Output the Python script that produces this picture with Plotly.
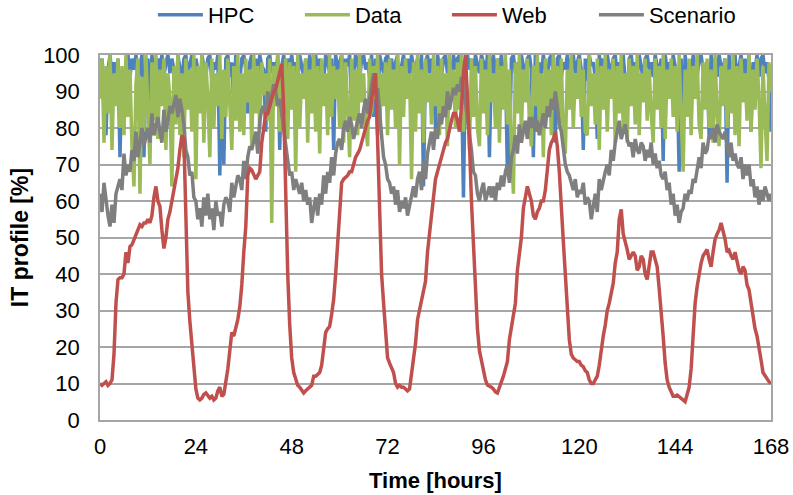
import numpy as np
import plotly.graph_objects as go

# Half-hourly IT utilisation profiles over one week (168 h), values in %.
# Each line of values covers six hours (12 samples).
hpc = [
    97, 99, 92, 78, 96, 100, 94, 98, 93, 99, 72, 95,
    80, 98, 100, 94, 99, 96, 100, 93, 97, 100, 72, 96,
    99, 85, 100, 95, 88, 99, 96, 100, 94, 98, 100, 95,
    99, 96, 84, 100, 97, 93, 99, 100, 95, 98, 100, 94,
    99, 96, 85, 100, 97, 94, 99, 100, 93, 98, 96, 100,
    67, 95, 70, 99, 100, 94, 98, 86, 100, 97, 93, 99,
    100, 96, 84, 98, 100, 95, 99, 93, 100, 97, 96, 79,
    99, 100, 95, 98, 93, 100, 74, 97, 100, 94, 99, 96,
    100, 95, 98, 93, 100, 97, 94, 99, 88, 100, 96, 98,
    100, 94, 99, 97, 93, 100, 98, 95, 99, 74, 100, 96,
    98, 100, 94, 99, 97, 100, 86, 95, 100, 98, 93, 99,
    100, 96, 98, 94, 100, 83, 99, 78, 100, 97, 95, 99,
    100, 96, 99, 93, 98, 100, 82, 97, 100, 95, 99, 94,
    100, 97, 96, 99, 93, 100, 64, 98, 100, 95, 99, 96,
    80, 100, 97, 94, 99, 100, 95, 98, 93, 100, 96, 99,
    100, 94, 61, 98, 100, 96, 99, 93, 100, 97, 95, 100,
    98, 94, 100, 72, 97, 100, 93, 99, 96, 100, 94, 98,
    68, 70, 99, 100, 95, 98, 93, 100, 97, 94, 99, 100,
    96, 72, 100, 80, 98, 94, 100, 97, 93, 99, 100, 95,
    76, 99, 100, 94, 98, 96, 100, 93, 99, 100, 95, 98,
    100, 96, 74, 99, 93, 100, 97, 98, 94, 77, 100, 96,
    99, 93, 100, 97, 95, 99, 100, 94, 98, 96, 100, 93,
    86, 99, 100, 95, 98, 94, 100, 97, 93, 99, 100, 96,
    98, 94, 100, 97, 95, 99, 71, 100, 96, 98, 93, 100,
    97, 94, 68, 99, 78, 100, 95, 98, 93, 100, 97, 94,
    99, 100, 96, 93, 98, 78, 100, 95, 99, 94, 100, 97,
    96, 99, 65, 100, 94, 98, 100, 93, 97, 100, 95, 99,
    93, 100, 79, 98, 96, 100, 94, 99, 100, 95, 98, 93,
    79,
]

data = [
    88, 99, 76, 97, 84, 100, 74, 95, 86, 99, 80, 97,
    78, 100, 83, 96, 75, 64, 92, 99, 62, 94, 79, 100,
    85, 70, 98, 82, 100, 77, 96, 86, 99, 74, 95, 88,
    64, 97, 81, 100, 78, 95, 72, 99, 85, 96, 79, 100,
    66, 97, 84, 100, 76, 98, 88, 72, 99, 80, 95, 86,
    100, 77, 96, 83, 99, 88, 74, 97, 82, 100, 79, 95,
    78, 99, 87, 96, 75, 100, 84, 97, 80, 98, 89, 95,
    82, 99, 54, 97, 86, 100, 79, 96, 84, 99, 77, 98,
    85, 97, 68, 100, 80, 95, 88, 99, 76, 96, 84, 100,
    79, 97, 73, 99, 86, 95, 78, 100, 83, 97, 88, 96,
    80, 100, 76, 98, 85, 72, 99, 82, 96, 78, 100, 87,
    95, 81, 75, 99, 84, 97, 88, 100, 79, 95, 86, 98,
    78, 99, 85, 96, 80, 100, 70, 97, 83, 99, 88, 95,
    66, 98, 79, 100, 84, 96, 76, 99, 87, 95, 81, 100,
    86, 97, 78, 99, 83, 95, 75, 100, 88, 96, 80, 98,
    85, 100, 79, 96, 88, 74, 99, 83, 97, 80, 75, 99,
    84, 96, 78, 100, 87, 95, 80, 99, 76, 97, 85, 100,
    81, 96, 74, 62, 98, 84, 100, 79, 96, 87, 99, 82,
    75, 97, 86, 100, 80, 95, 72, 99, 84, 96, 78, 100,
    86, 97, 81, 99, 77, 73, 96, 85, 100, 80, 95, 88,
    99, 83, 96, 79, 78, 100, 86, 95, 81, 99, 74, 97,
    85, 100, 79, 96, 88, 99, 76, 97, 84, 100, 80, 95,
    76, 99, 86, 97, 81, 100, 78, 95, 87, 99, 82, 96,
    84, 76, 99, 85, 97, 80, 100, 77, 96, 88, 99, 83,
    97, 79, 100, 86, 68, 96, 83, 99, 78, 97, 88, 100,
    81, 77, 98, 85, 99, 80, 96, 76, 100, 84, 75, 97,
    86, 99, 80, 96, 84, 100, 78, 97, 75, 99, 87, 95,
    82, 100, 79, 96, 85, 99, 88, 69, 97, 83, 71, 98,
    90,
]

web = [
    10, 9.5, 10, 10.5, 9.5, 10, 11, 18, 32, 38.5, 39, 39,
    40, 46, 43, 47.5, 48, 49.5, 51, 52, 53.5, 53, 54, 54,
    55, 54, 56, 61, 64, 60, 58.5, 52, 47, 50, 55, 57,
    60, 63, 67, 69, 74, 78, 77, 55, 35, 27, 20, 13,
    8.5, 6, 5.5, 6, 7, 7.4, 6.5, 6, 6.5, 5.5, 6, 8,
    9, 6.5, 7, 10, 14, 19, 24, 23, 25, 27.5, 31, 37,
    46, 53, 67, 69, 68.5, 67, 66, 67, 68, 76, 80, 84,
    84, 86, 88, 90, 90.7, 93, 95, 97.5, 85, 62, 40, 26,
    17, 13, 11, 9.5, 9, 8, 7.4, 8, 8.5, 8.8, 9.5, 12,
    12, 12.5, 13, 15, 20, 24, 25, 25.6, 29, 33, 40, 49,
    55, 65, 66, 66.5, 67, 68, 68, 70, 72, 73, 74, 76,
    78, 80, 82, 83, 88, 92, 95, 75, 52, 40, 32, 24,
    17, 15.6, 14, 13, 10, 9, 9.5, 9, 9, 8.5, 8, 8.5,
    13, 17, 21, 27.5, 30, 32, 35, 38, 46, 51, 58, 63,
    66, 68, 70, 72, 74, 76, 77, 80, 82, 84, 84, 82,
    79, 86, 95, 100, 90, 76, 60, 47, 33, 25, 19, 16,
    13, 11, 9.6, 9.4, 9, 8.5, 7.7, 7.4, 9, 10, 12, 14,
    16, 22, 25, 28, 32, 41, 45, 50, 58, 61, 64, 62,
    60, 56, 55, 57, 58, 60, 60, 63, 70, 74, 76, 77,
    79, 75, 68, 56, 49, 40, 32, 22, 18, 17, 16.5, 16,
    16, 15, 14.6, 13.5, 13, 11, 10, 10, 11, 12, 15, 20,
    23, 26, 30, 32, 35, 37.5, 43, 46, 55, 57.7, 51, 49,
    46.7, 44, 45, 46, 45, 41, 42, 45, 44, 40, 38.5, 43,
    46, 46, 44, 42, 36, 28, 23, 15.6, 11, 9, 7.4, 6.5,
    6.5, 6.8, 6.4, 6, 5.5, 5, 7, 9, 14, 23, 32, 36.5,
    40.6, 43, 45, 46, 46.7, 44, 42, 46, 49.5, 51, 52, 54,
    52, 49.5, 46, 46.5, 45, 44, 46, 43, 41, 40, 42, 41,
    37, 35.7, 32, 29, 25, 23, 19, 16.5, 13, 12, 11, 10.5,
    10,
]

scenario = [
    62, 57, 65, 60, 56, 53, 59, 54, 62, 64, 66, 63,
    73, 67, 70, 68, 74, 71, 79, 72, 77, 80, 75, 78,
    80, 76, 84, 78, 81, 83, 79, 76, 85, 79, 82, 86,
    84, 87, 89, 83, 88, 85, 81, 74, 72, 67, 68, 61,
    60, 55, 58, 53, 61, 56, 62, 55, 58, 52, 60, 56,
    57, 53, 59, 61, 60, 57, 65, 61, 64, 67, 66, 63,
    71, 66, 72, 75, 74, 77, 79, 73, 82, 85, 86, 83,
    90, 86, 89, 92, 90, 86, 88, 84, 79, 75, 72, 67,
    68, 63, 66, 64, 62, 65, 60, 63, 59, 61, 54, 58,
    61, 56, 62, 59, 67, 62, 68, 65, 72, 67, 73, 76,
    77, 74, 80, 82, 79, 83, 81, 77, 80, 82, 84, 80,
    85, 88, 84, 89, 92, 95, 89, 91, 83, 78, 72, 70,
    66, 65, 62, 64, 59, 63, 57, 60, 58, 61, 56, 59,
    62, 64, 61, 66, 68, 63, 71, 66, 73, 76, 79, 74,
    80, 77, 84, 81, 86, 83, 90, 85, 88, 91, 89, 92,
    90, 94, 91, 87, 83, 78, 74, 68, 67, 62, 60, 63,
    65, 60, 62, 64, 61, 64, 60, 65, 63, 67, 64, 68,
    70, 65, 72, 74, 78, 73, 81, 76, 79, 82, 77, 83,
    80, 83, 79, 82, 78, 81, 84, 80, 86, 83, 88, 85,
    90, 86, 81, 79, 75, 70, 68, 67, 65, 63, 66, 61,
    63, 62, 65, 59, 61, 60, 55, 58, 62, 57, 66, 63,
    66, 68, 70, 67, 74, 71, 76, 79, 82, 77, 79, 81,
    77, 75, 76, 72, 77, 74, 73, 76, 75, 71, 74, 72,
    76, 70, 73, 69, 71, 67, 66, 68, 63, 65, 59, 62,
    56, 59, 54, 57, 58, 62, 60, 63, 62, 66, 65, 68,
    72, 69, 76, 73, 74, 78, 77, 80, 76, 81, 79, 78,
    77, 79, 75, 72, 76, 71, 73, 70, 69, 72, 66, 70,
    67, 70, 64, 66, 61, 64, 59, 63, 60, 64, 62, 60,
    62,
]

hours = np.arange(len(hpc)) * 0.5

x_ticks = [0, 24, 48, 72, 96, 120, 144, 168]
y_ticks = [0, 10, 20, 30, 40, 50, 60, 70, 80, 90, 100]

# Drawing order (Web on top); legend order is set with legendrank.
series = [
    ("HPC", hpc, "#4F81BD", 1),
    ("Data", data, "#9BBB59", 2),
    ("Scenario", scenario, "#7F7F7F", 4),
    ("Web", web, "#C0504D", 3),
]

fig = go.Figure()
for name, values, color, rank in series:
    fig.add_trace(go.Scatter(
        x=hours, y=values, mode="lines", name=name,
        line=dict(color=color, width=3.5),
        legendrank=rank,
    ))

grid_color = "#A6A6A6"
font_family = "Liberation Sans, Arial, sans-serif"

fig.update_layout(
    width=793, height=495,
    margin=dict(l=100, r=22, t=55, b=75, autoexpand=False),
    paper_bgcolor="white", plot_bgcolor="white",
    font=dict(family=font_family, size=22, color="black"),
    legend=dict(
        orientation="h", x=0.517, xanchor="center", y=1.11, yanchor="middle",
        font=dict(size=22), itemwidth=45, entrywidth=87, traceorder="normal",
        bgcolor="rgba(0,0,0,0)",
    ),
)

fig.update_xaxes(
    range=[0, 168], tickvals=x_ticks, ticks="", showgrid=False, zeroline=False,
    showline=True, linecolor=grid_color, linewidth=1.5, mirror=True,
    ticklabelstandoff=6,
    title=dict(text="<b>Time [hours]</b>", standoff=14, font=dict(size=22)),
)
fig.update_yaxes(
    range=[0, 100], tickvals=y_ticks, ticks="", showgrid=True,
    gridcolor=grid_color, gridwidth=1.5, zeroline=False,
    showline=True, linecolor=grid_color, linewidth=1.5, mirror=True,
    ticklabelstandoff=14,
    title=dict(text="<b>IT profile [%]</b>", standoff=8, font=dict(size=23)),
)

fig.write_html("out.html")
